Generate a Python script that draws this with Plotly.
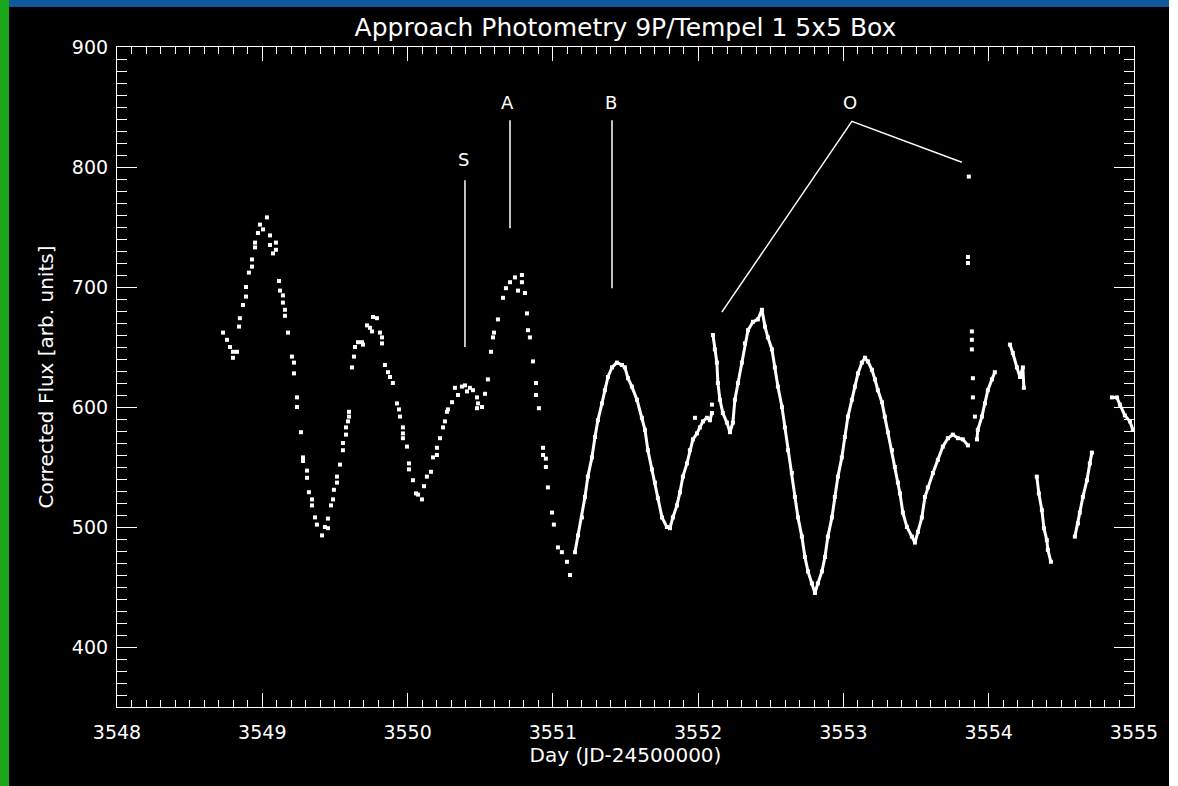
import plotly.graph_objects as go

# ---- photometry data (Day = JD-2450000, corrected flux) ----
days_a = [3548.730, 3548.757, 3548.778, 3548.798, 3548.826, 3548.798, 3548.840, 3548.846, 3548.867, 3548.888,
          3548.888, 3548.908, 3548.929, 3548.929, 3548.950, 3548.950, 3548.970, 3548.984, 3549.005, 3549.032,
          3549.053, 3549.053, 3549.074, 3549.094, 3549.094, 3549.115, 3549.122, 3549.142, 3549.142, 3549.156,
          3549.156, 3549.177, 3549.204, 3549.218, 3549.218, 3549.239, 3549.239, 3549.266, 3549.280, 3549.280,
          3549.308, 3549.308, 3549.321, 3549.342, 3549.342, 3549.363, 3549.376, 3549.411, 3549.431, 3549.452,
          3549.452, 3549.473, 3549.487, 3549.493, 3549.514, 3549.514, 3549.535, 3549.555, 3549.555, 3549.576,
          3549.576, 3549.590, 3549.597, 3549.597, 3549.617, 3549.631, 3549.638, 3549.659, 3549.686, 3549.693,
          3549.721, 3549.741, 3549.755, 3549.762, 3549.789, 3549.810, 3549.824, 3549.824, 3549.844, 3549.865,
          3549.879, 3549.899, 3549.927, 3549.941, 3549.948, 3549.968, 3549.968, 3549.968, 3549.996, 3550.010,
          3550.010, 3550.037, 3550.058, 3550.072, 3550.099, 3550.113, 3550.133, 3550.161, 3550.175, 3550.202,
          3550.202, 3550.223, 3550.244, 3550.257, 3550.271, 3550.278, 3550.306, 3550.326, 3550.347, 3550.374,
          3550.395, 3550.409, 3550.429, 3550.450, 3550.478, 3550.485, 3550.478, 3550.512, 3550.533, 3550.553,
          3550.574, 3550.588, 3550.595, 3550.622, 3550.657, 3550.677, 3550.705, 3550.739, 3550.760, 3550.787,
          3550.787, 3550.808, 3550.822, 3550.829, 3550.842, 3550.863, 3550.884, 3550.884, 3550.904, 3550.932,
          3550.932, 3550.952, 3550.952, 3550.966, 3550.994, 3551.007,
          3551.035, 3551.062, 3551.097, 3551.118]
flux_a = [662, 656, 650, 646, 646, 641, 667, 674, 685, 692,
          700, 712, 717, 723, 733, 737, 745, 752, 748, 758,
          743, 735, 728, 737, 731, 705, 697, 693, 687, 681,
          676, 662, 642, 637, 628, 608, 600, 579, 558, 555,
          547, 541, 529, 523, 518, 508, 502, 493, 500, 507,
          499, 518, 523, 531, 542, 537, 552, 564, 570, 577,
          583, 588, 592, 596, 633, 642, 650, 654, 654, 652,
          668, 666, 663, 675, 674, 662, 658, 653, 635, 629,
          625, 620, 603, 598, 592, 583, 578, 574, 567, 553,
          548, 539, 528, 527, 523, 534, 542, 546, 558, 560,
          566, 574, 583, 588, 596, 598, 604, 616, 610, 617,
          618, 613, 616, 614, 608, 603, 599, 600, 611, 623,
          646, 658, 662, 673, 691, 699, 704, 708, 697, 710,
          704, 695, 678, 664, 658, 638, 620, 610, 599, 566,
          560, 557, 550, 533, 512, 502,
          483, 479, 471, 460]

days_b = [3551.152, 3551.173, 3551.200, 3551.221, 3551.241, 3551.269,
          3551.290, 3551.310, 3551.338, 3551.358, 3551.379, 3551.407, 3551.441, 3551.475, 3551.496, 3551.517,
          3551.544, 3551.579, 3551.613, 3551.634, 3551.654, 3551.682, 3551.703, 3551.723, 3551.751, 3551.785,
          3551.806, 3551.826, 3551.854, 3551.875, 3551.895, 3551.923, 3551.943, 3551.964, 3551.992, 3552.012,
          3552.033, 3552.060, 3552.081, 3552.095]
flux_b = [479, 493, 508, 525, 542, 558,
          575, 589, 603, 614, 625, 633, 637, 635, 633, 624,
          617, 606, 591, 581, 564, 548, 537, 524, 508, 500,
          499, 508, 518, 529, 542, 553, 564, 573, 578, 583,
          588, 591, 589, 595]

days_c = [3552.102, 3552.115, 3552.129, 3552.136, 3552.150, 3552.170, 3552.198, 3552.219, 3552.239, 3552.253,
          3552.274, 3552.301, 3552.322, 3552.343, 3552.377, 3552.411, 3552.439, 3552.460, 3552.480, 3552.508,
          3552.528, 3552.549, 3552.577, 3552.597, 3552.618, 3552.645, 3552.666, 3552.687, 3552.714, 3552.735,
          3552.756, 3552.783, 3552.804, 3552.824, 3552.852, 3552.873, 3552.893, 3552.921, 3552.941, 3552.962,
          3552.989, 3553.010, 3553.031, 3553.058, 3553.079, 3553.100, 3553.127, 3553.148, 3553.168, 3553.196,
          3553.217, 3553.237, 3553.265, 3553.285, 3553.306, 3553.334, 3553.354, 3553.375, 3553.389, 3553.409,
          3553.437, 3553.471, 3553.492, 3553.513, 3553.540, 3553.561, 3553.581, 3553.616, 3553.650, 3553.684,
          3553.719, 3553.753, 3553.788, 3553.822, 3553.857]
flux_c = [660, 648, 637, 620, 606, 595, 587, 579, 587, 606,
          620, 637, 653, 664, 671, 673, 681, 667, 658, 648,
          633, 617, 600, 583, 564, 545, 525, 508, 492, 475,
          463, 453, 445, 453, 463, 475, 492, 508, 525, 542,
          558, 575, 592, 606, 617, 628, 637, 641, 638, 631,
          623, 614, 604, 592, 579, 564, 550, 537, 528, 512,
          500, 492, 487, 496, 508, 525, 533, 545, 556, 567,
          574, 577, 574, 573, 568]

days_d = [3553.919, 3553.925, 3553.953, 3553.974, 3553.994, 3554.022, 3554.042]
flux_d = [573, 581, 592, 603, 614, 623, 629]

days_e = [3554.146, 3554.166, 3554.194, 3554.215, 3554.235, 3554.242]
flux_e = [652, 645, 633, 625, 633, 616]

days_f = [3554.331, 3554.345, 3554.366, 3554.380, 3554.400, 3554.407, 3554.428]
flux_f = [542, 528, 514, 499, 489, 481, 471]

days_g = [3554.593, 3554.614, 3554.627, 3554.648, 3554.676, 3554.696, 3554.710]
flux_g = [492, 503, 512, 525, 539, 553, 562]

days_h = [3554.848, 3554.882, 3554.903, 3554.937, 3554.972, 3554.992]
flux_h = [608, 608, 602, 593, 588, 581]

# isolated points (including the outlier column marked "O")
days_iso = [3551.978, 3552.095, 3553.863, 3553.857, 3553.857, 3553.884, 3553.884, 3553.884, 3553.891, 3553.891, 3553.905]
flux_iso = [591, 602, 792, 725, 720, 663, 656, 648, 624, 608, 592]

# ---- event markers (labels and pointer lines, data coordinates) ----
label_text = ["S", "A", "B", "O"]
label_day = [3550.388, 3550.690, 3551.400, 3553.045]
label_flux = [806, 854, 854, 854]

s_line_day = [3550.395, 3550.395]
s_line_flux = [650, 789]
a_line_day = [3550.705, 3550.705]
a_line_flux = [749, 839]
b_line_day = [3551.407, 3551.407]
b_line_flux = [699, 839]
o_line_day = [3552.163, 3553.058, 3553.815]
o_line_flux = [679, 838, 804]

x_range = [3548, 3555]
y_range = [350, 900]

title_text = "Approach Photometry 9P/Tempel 1 5x5 Box"
x_title = "Day (JD-24500000)"
y_title = "Corrected Flux [arb. units]"

FONT = "DejaVu Sans"
W, H = 1178, 786
ML, MR, MT, MB = 117, 44, 47, 79

fig = go.Figure()

# sparse first nights: individual points
fig.add_trace(go.Scatter(
    x=days_a + days_iso, y=flux_a + flux_iso, mode="markers",
    marker=dict(symbol="square", size=4, color="white", line=dict(width=0)),
    hoverinfo="skip", showlegend=False))

# densely sampled runs: points close enough to merge into a dotted curve
for dx, fy_ in [(days_b, flux_b), (days_c, flux_c), (days_d, flux_d), (days_e, flux_e),
                (days_f, flux_f), (days_g, flux_g), (days_h, flux_h)]:
    fig.add_trace(go.Scatter(
        x=dx, y=fy_, mode="lines+markers",
        line=dict(color="white", width=3),
        marker=dict(symbol="square", size=4, color="white", line=dict(width=0)),
        hoverinfo="skip", showlegend=False))

for lx, ly in [(s_line_day, s_line_flux), (a_line_day, a_line_flux),
               (b_line_day, b_line_flux), (o_line_day, o_line_flux)]:
    fig.add_trace(go.Scatter(x=lx, y=ly, mode="lines",
                             line=dict(color="white", width=1.5),
                             hoverinfo="skip", showlegend=False))

for t, lx, ly in zip(label_text, label_day, label_flux):
    fig.add_annotation(x=lx, y=ly, text=t, showarrow=False,
                       font=dict(family=FONT, size=18, color="white"),
                       xanchor="center", yanchor="middle")

pw = W - ML - MR
ph = H - MT - MB
def fx(px):
    return (px - ML) / pw
def fy(py):
    return (H - MB - py) / ph

# screenshot surroundings: blue window bar, green strip at left, white right edge
fig.add_shape(type="rect", xref="paper", yref="paper", x0=fx(0), x1=fx(1169), y0=fy(7), y1=fy(0),
              fillcolor="#0e5a9c", line=dict(width=0), layer="below")
fig.add_shape(type="rect", xref="paper", yref="paper", x0=fx(0), x1=fx(9), y0=fy(786), y1=fy(0),
              fillcolor="#1aa81a", line=dict(width=0), layer="below")
fig.add_shape(type="rect", xref="paper", yref="paper", x0=fx(1169), x1=fx(1178), y0=fy(786), y1=fy(0),
              fillcolor="white", line=dict(width=0), layer="below")

axis_common = dict(
    showgrid=False, zeroline=False, showline=True, linecolor="white", linewidth=1.2,
    mirror="allticks", ticks="inside", tickcolor="white", tickwidth=1.2,
    tickfont=dict(family=FONT, size=19, color="white"),
)

fig.update_xaxes(**axis_common, range=x_range, tick0=3548, dtick=1, ticklen=14,
                 minor=dict(dtick=0.1, ticks="inside", ticklen=7, tickcolor="white", tickwidth=1.2),
                 ticklabelstandoff=8,
                 title=dict(text=x_title, font=dict(family=FONT, size=20, color="white"), standoff=6))
fig.update_yaxes(**axis_common, range=y_range, tick0=400, dtick=100, ticklen=20,
                 minor=dict(dtick=10, ticks="inside", ticklen=10, tickcolor="white", tickwidth=1.2),
                 ticklabelstandoff=4,
                 title=dict(text=y_title, font=dict(family=FONT, size=20, color="white"), standoff=12))

fig.update_layout(
    width=W, height=H, autosize=False,
    margin=dict(l=ML, r=MR, t=MT, b=MB, pad=0),
    paper_bgcolor="black", plot_bgcolor="black",
    title=dict(text=title_text, x=0.5, xref="paper", y=1 - 27 / H, yref="container",
               xanchor="center", yanchor="middle",
               font=dict(family=FONT, size=25, color="white")),
    showlegend=False,
)

fig.write_html("out.html", config={"displayModeBar": False})
